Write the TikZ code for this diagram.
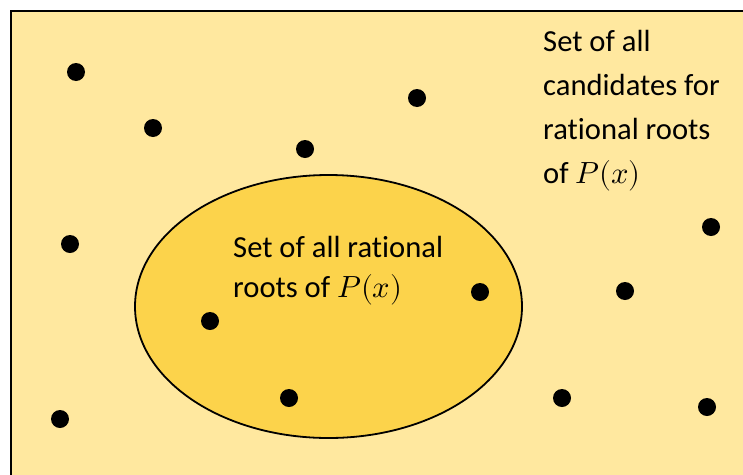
\documentclass[tikz,border=0pt]{standalone}
\usepackage{fontspec}
\usepackage{unicode-math}
\setmainfont{Carlito}[Ligatures=NoCommon]
\setmathfont{Latin Modern Math}
\definecolor{bgyellow}{HTML}{FFE89F}
\definecolor{goldfill}{HTML}{FCD34B}
\tikzset{
  dotpt/.style={circle,fill=black,inner sep=0pt,minimum size=18pt},
  lbl/.style={anchor=base west,inner sep=0pt,align=left,font=\fontsize{30.6}{43.7}\selectfont},
}
\begin{document}
\begin{tikzpicture}[x=1pt,y=-1pt]
\useasboundingbox (0,0) rectangle (743,474);
\clip (0,0) rectangle (743,474);
\fill[white] (0,0) rectangle (743,474);
\draw[line width=2.5pt,fill=bgyellow] (11,11) rectangle (780,500);
\draw[line width=1.8pt,fill=goldfill] (328.5,306.5) ellipse [x radius=193.5,y radius=131.5];
\node[dotpt] (d1) at (76,72) {};
\node[dotpt] (d2) at (153,128) {};
\node[dotpt] (d3) at (417,98) {};
\node[dotpt] (d4) at (305,149) {};
\node[dotpt] (d5) at (70,244) {};
\node[dotpt] (d6) at (711,227) {};
\node[dotpt] (d7) at (480,292) {};
\node[dotpt] (d8) at (625,291) {};
\node[dotpt] (d9) at (210,321) {};
\node[dotpt] (d10) at (289,398) {};
\node[dotpt] (d11) at (562,398) {};
\node[dotpt] (d12) at (707,407) {};
\node[dotpt] (d13) at (60,419) {};
\node[lbl] (tall) at (543,183) {Set of all\\candidates for\\rational roots\\of $P(x)$};
\node[lbl,font=\fontsize{30.6}{40}\selectfont] (troots) at (233,297) {Set of all rational\\roots of $P(x)$};
\end{tikzpicture}
\end{document}
